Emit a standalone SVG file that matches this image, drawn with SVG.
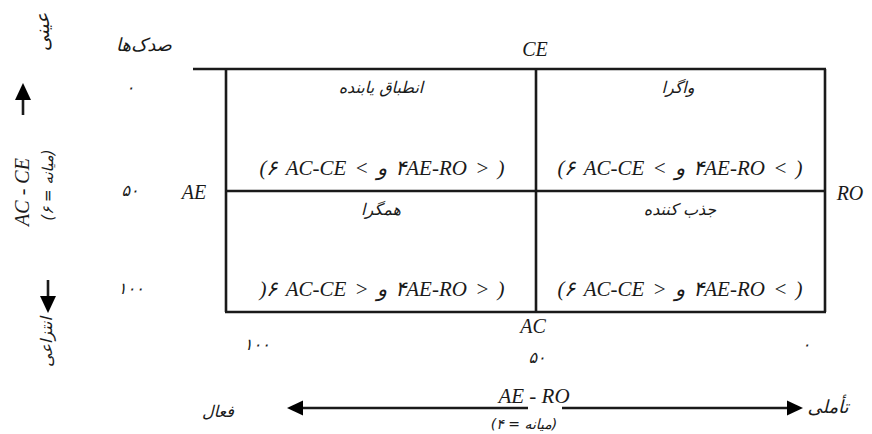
<svg xmlns="http://www.w3.org/2000/svg" width="872" height="434" viewBox="0 0 872 434">
<style>
.ln{stroke:#1a1a1a;stroke-width:2.6;fill:none}
.lat{font-family:"Liberation Serif","DejaVu Sans",serif;font-style:italic;fill:#1a1a1a}
.fa{font-family:"DejaVu Sans","Liberation Serif",sans-serif;font-style:italic;fill:#1a1a1a}
.frm{font-family:"Liberation Serif","DejaVu Sans",serif;font-style:italic;font-size:21px;word-spacing:3px;fill:#1a1a1a;text-anchor:middle}
.ttl{font-size:16px;text-anchor:middle}
.num{font-size:16px;text-anchor:middle}
.ah{fill:#000}
</style>
<g id="grid">
<line class="ln" x1="193" y1="69" x2="826" y2="69"/>
<line class="ln" x1="226" y1="69" x2="226" y2="312"/>
<line class="ln" x1="825" y1="69" x2="825" y2="312"/>
<line class="ln" x1="536" y1="69" x2="536" y2="312"/>
<line class="ln" x1="226" y1="191" x2="825" y2="191"/>
<line class="ln" x1="225" y1="312" x2="826" y2="312"/>
</g>
<g id="axis-labels">
<text class="lat" x="535" y="56" font-size="20" text-anchor="middle">CE</text>
<text class="lat" x="194" y="199" font-size="20" text-anchor="middle">AE</text>
<text class="lat" x="850" y="200" font-size="20" text-anchor="middle">RO</text>
<text class="lat" x="533" y="333" font-size="20" text-anchor="middle">AC</text>
</g>
<g id="cell-top-left">
<text class="fa ttl" x="381" y="93" direction="rtl">انطباق یابنده</text>
<text class="frm" x="382" y="175" direction="ltr" unicode-bidi="bidi-override">(۶ AC-CE &lt; و ۴AE-RO &gt; )</text>
</g>
<g id="cell-top-right">
<text class="fa ttl" x="678" y="93" direction="rtl">واگرا</text>
<text class="frm" x="680" y="175" direction="ltr" unicode-bidi="bidi-override">(۶ AC-CE &lt; و ۴AE-RO &lt; )</text>
</g>
<g id="cell-bottom-left">
<text class="fa ttl" x="381" y="215" direction="rtl">همگرا</text>
<text class="frm" x="382" y="296" direction="ltr" unicode-bidi="bidi-override">)۶ AC-CE &gt; و ۴AE-RO &gt; )</text>
</g>
<g id="cell-bottom-right">
<text class="fa ttl" x="680" y="215" direction="rtl">جذب کننده</text>
<text class="frm" x="680" y="296" direction="ltr" unicode-bidi="bidi-override">(۶ AC-CE &gt; و ۴AE-RO &lt; )</text>
</g>
<g id="left-scale">
<text class="fa" x="144" y="51" font-size="18" text-anchor="middle" direction="rtl">صدک‌ها</text>
<text class="fa num" x="130" y="93">۰</text>
<text class="fa num" x="130" y="196">۵۰</text>
<text class="fa num" x="131" y="294">۱۰۰</text>
</g>
<g id="bottom-scale">
<text class="fa num" x="257" y="350">۱۰۰</text>
<text class="fa num" x="537" y="363">۵۰</text>
<text class="fa num" x="806" y="350">۰</text>
</g>
<g id="vertical-axis">
<text class="fa" x="49" y="32" font-size="19" text-anchor="middle" direction="rtl" transform="rotate(-90 49 32)">عینی</text>
<text class="lat" x="29" y="192" font-size="20" text-anchor="middle" transform="rotate(-90 29 192)">AC - CE</text>
<text class="fa" x="53" y="185" font-size="15" text-anchor="middle" direction="rtl" transform="rotate(-90 53 185)">(میانه = ۶)</text>
<text class="fa" x="52" y="342" font-size="16" text-anchor="middle" direction="rtl" transform="rotate(-90 52 342)">انتزاعی</text>
</g>
<g id="horizontal-axis">
<text class="fa" x="218" y="417" font-size="16" text-anchor="middle" direction="rtl">فعال</text>
<text class="fa" x="828" y="413" font-size="18" text-anchor="middle" direction="rtl">تأملی</text>
<text class="lat" x="534" y="403" font-size="21" text-anchor="middle">AE - RO</text>
<text class="fa" x="524" y="429" font-size="14" text-anchor="middle" direction="rtl">(میانه = ۴)</text>
</g>
<g id="connectors">
<line class="ln" x1="23" y1="98" x2="23" y2="115"/>
<polygon class="ah" points="23,83 15,100 31,100"/>
<line class="ln" x1="48" y1="280" x2="48" y2="298"/>
<polygon class="ah" points="48,313 40,296 56,296"/>
<line class="ln" x1="300" y1="408" x2="528" y2="408"/>
<polygon class="ah" points="287,408 303,400.5 303,415.5"/>
<line class="ln" x1="562" y1="408" x2="790" y2="408"/>
<polygon class="ah" points="803,408 787,400.5 787,415.5"/>
</g>
</svg>
